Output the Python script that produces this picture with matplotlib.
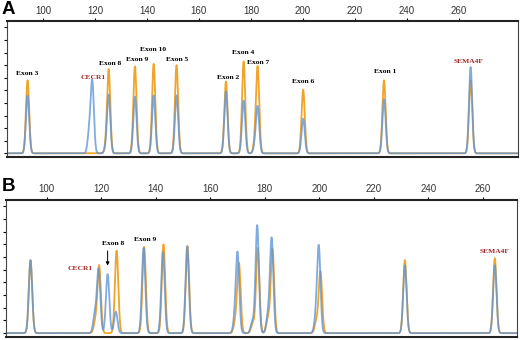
import numpy as np
import matplotlib
matplotlib.use("Agg")
from matplotlib import pyplot as plt

# ---- panel A: peak positions (bp) and heights for both traces
pos_orange_a = [94.1, 119.0, 124.2, 125.3, 135.4, 142.6, 151.4, 170.4, 177.2, 181.6, 182.6, 200.1, 231.2, 264.5]
h_orange_a = [5.8, 0.0, 0.4, 6.6, 6.9, 7.1, 7.0, 5.7, 7.3, 0.8, 6.7, 5.05, 5.8, 5.8]
pos_blue_a = [94.1, 117.8, 119.0, 124.2, 125.3, 135.4, 142.6, 151.4, 170.4, 177.2, 181.6, 182.6, 200.1, 231.2, 264.5]
h_blue_a = [4.6, 1.6, 5.6, 0.3, 4.6, 4.5, 4.6, 4.6, 4.9, 4.2, 0.6, 3.6, 2.75, 4.3, 6.85]

# ---- panel B
pos_orange_b = [94.0, 117.8, 119.2, 125.6, 135.7, 142.8, 151.6, 169.2, 170.5, 175.6, 177.4, 181.2, 182.8, 198.9, 200.4, 231.4, 264.4]
h_orange_b = [5.75, 0.9, 5.3, 6.5, 6.8, 7.0, 6.85, 0.9, 5.45, 0.8, 6.7, 1.2, 6.6, 0.9, 4.85, 5.75, 5.9]
pos_blue_b = [94.0, 117.6, 119.0, 122.3, 125.3, 135.5, 142.6, 151.5, 169.0, 170.0, 175.4, 177.2, 181.1, 182.5, 198.7, 199.8, 231.4, 264.4]
h_blue_b = [5.75, 1.4, 5.0, 4.65, 1.7, 6.7, 6.4, 6.85, 1.0, 6.15, 0.9, 8.5, 1.3, 7.45, 1.0, 6.75, 5.35, 5.35]

labels_a = ["Exon 3", "CECR1", "Exon 8", "Exon 9", "Exon 10", "Exon 5", "Exon 2",
            "Exon 4", "Exon 7", "Exon 6", "Exon 1", "SEMA4F"]
labels_b = ["CECR1", "Exon 8", "Exon 9", "SEMA4F"]

xticks = [100, 120, 140, 160, 180, 200, 220, 240, 260]

ORANGE = "#f0a42a"
BLUE = "#6196d8"
DARKRED = "#9e2a2b"
PEAK_SIGMA = 0.62


def trace(x, pos, h):
    y = np.zeros_like(x)
    for p, a in zip(pos, h):
        y += a * np.exp(-0.5 * ((x - p) / PEAK_SIGMA) ** 2)
    return y


def style_axis(ax, xlim):
    ax.set_xlim(xlim)
    ax.set_ylim(-0.3, 10.5)
    ax.set_xticks(xticks)
    ax.set_yticks(range(0, 11))
    ax.tick_params(axis="x", top=True, bottom=False, labeltop=True, labelbottom=False,
                   direction="out", length=2.5, width=0.8, pad=1.5, labelsize=7,
                   labelcolor="#333333")
    ax.tick_params(axis="y", left=True, labelleft=False, direction="out",
                   length=2.5, width=0.8)
    for s in ["top", "bottom"]:
        ax.spines[s].set_linewidth(1.5)
        ax.spines[s].set_color("#222222")
    for s in ["left", "right"]:
        ax.spines[s].set_linewidth(0.8)
        ax.spines[s].set_color("#444444")


plt.rcParams["font.family"] = ["Liberation Sans", "DejaVu Sans"]
fig = plt.figure(figsize=(5.2, 3.4), dpi=100)

lab_font = dict(family="Liberation Serif", fontweight="bold", fontsize=5.4,
                ha="center", va="center")

# ---------------- A
ax_a = fig.add_axes([0.0135, 0.538, 0.9825, 0.400])
xa = np.linspace(85, 285, 4000)
ax_a.plot(xa, trace(xa, pos_orange_a, h_orange_a), color=ORANGE, lw=1.3)
ax_a.plot(xa, trace(xa, pos_blue_a, h_blue_a), color=BLUE, lw=1.3, alpha=0.8)
style_axis(ax_a, (86.2, 282.7))

lab_xy_a = [(93.8, 6.35), (119.2, 6.03), (125.8, 7.14), (136.2, 7.46), (142.3, 8.25),
            (151.5, 7.46), (171.2, 6.03), (176.9, 8.0), (182.7, 7.2), (200.0, 5.7),
            (231.5, 6.5), (263.8, 7.3)]
for t, (x, y) in zip(labels_a, lab_xy_a):
    c = DARKRED if t in ("CECR1", "SEMA4F") else "black"
    ax_a.text(x, y, t, color=c, **lab_font)

# ---------------- B
ax_b = fig.add_axes([0.0115, 0.009, 0.9825, 0.403])
xb = np.linspace(84, 274, 4000)
ax_b.plot(xb, trace(xb, pos_orange_b, h_orange_b), color=ORANGE, lw=1.3)
ax_b.plot(xb, trace(xb, pos_blue_b, h_blue_b), color=BLUE, lw=1.3, alpha=0.8)
style_axis(ax_b, (85.0, 272.5))

lab_xy_b = [(112.1, 5.1), (124.2, 7.1), (136.0, 7.4), (264.4, 6.45)]
for t, (x, y) in zip(labels_b, lab_xy_b):
    c = DARKRED if t in ("CECR1", "SEMA4F") else "black"
    ax_b.text(x, y, t, color=c, **lab_font)
ax_b.annotate("", xy=(122.3, 5.1), xytext=(122.3, 6.7),
              arrowprops=dict(arrowstyle="-|>", color="black", lw=0.7,
                              mutation_scale=5))

fig.text(2 / 520, 1 - 1 / 340, "A", fontsize=13.5, fontweight="bold", va="top", ha="left")
fig.text(2 / 520, 1 - 178 / 340, "B", fontsize=13.5, fontweight="bold", va="top", ha="left")

fig.savefig("out.png", dpi=100)
